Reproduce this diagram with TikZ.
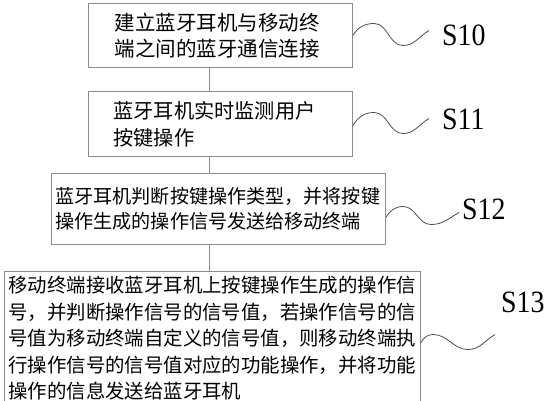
\documentclass[tikz,border=0pt]{standalone}
\usepackage{fontspec}
\setmainfont{Liberation Serif}
\newfontfamily\cjk{Noto Sans CJK SC}
\usetikzlibrary{calc}

\begin{document}
\begin{tikzpicture}[x=1pt,y=1pt,
    stepbox/.style={draw=black!45,line width=1pt,rectangle,anchor=north west,
        align=left,inner ysep=0pt},
    link/.style={draw=black!45,line width=1pt},
    wave/.style={draw=black!70,line width=0.8pt},
    steplabel/.style={anchor=west,inner sep=0pt,xscale=0.9,font=\fontsize{31}{31}\selectfont}]

    \clip (0,0) rectangle (552,-400);  % Frame

    % Steps
    \node[stepbox,minimum width=264,minimum height=64,text width=212,inner xsep=26,
        font=\cjk\fontsize{20.5}{26}\selectfont] (b1) at (88,-3)
        {建立蓝牙耳机与移动终\\端之间的蓝牙通信连接};
    \node[stepbox,minimum width=264,minimum height=65,text width=214,inner xsep=25,
        font=\cjk\fontsize{20.2}{27}\selectfont] (b2) at (88,-91)
        {蓝牙耳机实时监测用户\\按键操作};
    \node[stepbox,minimum width=334,minimum height=71,text width=326,inner xsep=4,
        font=\cjk\fontsize{19.1}{25}\selectfont] (b3) at (51,-173)
        {蓝牙耳机判断按键操作类型，并将按键\\操作生成的操作信号发送给移动终端};
    \node[stepbox,minimum width=416,minimum height=134,text width=408,inner xsep=4,
        font=\cjk\fontsize{19.4}{26.5}\selectfont] (b4) at (4,-271)
        {移动终端接收蓝牙耳机上按键操作生成的操作信\\号，并判断操作信号的信号值，若操作信号的信\\号值为移动终端自定义的信号值，则移动终端执\\行操作信号的信号值对应的功能操作，并将功能\\操作的信息发送给蓝牙耳机};

    \coordinate (spine) at (209,0);
    \foreach \a/\b in {b1/b2,b2/b3,b3/b4}{
        \draw[link] (\a.south -| spine) -- (\b.north -| spine);
    }

    % Step labels
    \draw[wave] (b1.east) to[out=60,in=180] ++(21,12) to[out=0,in=180] ++(29,-22)
        to[out=0,in=210] ++(26,15) coordinate (e10);
    \draw[wave] ($(b2.east)+(0,-1.5)$) to[out=60,in=180] ++(21,13) to[out=0,in=180] ++(29,-21)
        to[out=0,in=210] ++(26,15) coordinate (e11);
    \draw[wave] ($(b3.east)+(0,-8.5)$) to[out=60,in=180] ++(17,11) to[out=0,in=180] ++(28,-18)
        to[out=0,in=210] ++(28,12) coordinate (e12);
    \draw[wave] ($(b4.east)+(0,-4)$) to[out=60,in=180] ++(12,8) to[out=0,in=180] ++(35,-15)
        to[out=0,in=210] ++(27,15) coordinate (e13);

    \node[steplabel] (s10) at (442,-35) {S10};
    \node[steplabel] (s11) at (442,-119) {S11};
    \node[steplabel] (s12) at (462,-209) {S12};
    \node[steplabel] (s13) at (501,-302) {S13};

\end{tikzpicture}
\end{document}
